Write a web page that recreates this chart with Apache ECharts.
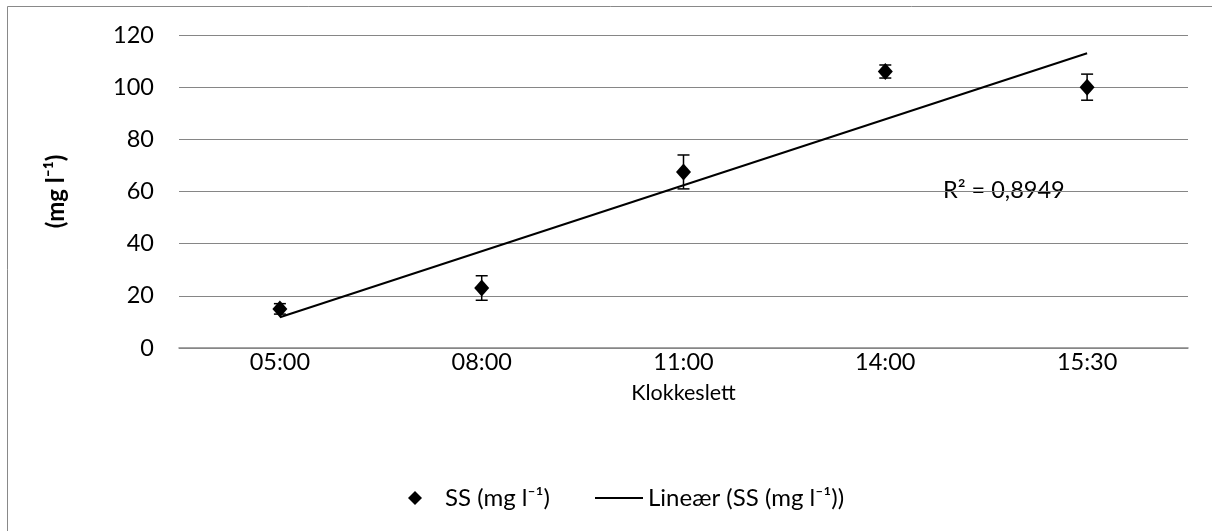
<!DOCTYPE html>
<html>
<head>
<meta charset="utf-8">
<script src="https://cdn.jsdelivr.net/npm/echarts@6/dist/echarts.min.js"></script>
<style>html,body{margin:0;padding:0;background:#fff}#c{width:1212px;height:531px}</style>
</head>
<body>
<div id="c"></div>
<script>
var categories = ['05:00', '08:00', '11:00', '14:00', '15:30'];
var ssValues = [15, 23, 67.5, 106, 100];
var ssErrors = [2, 4.7, 6.5, 2.5, 5];
var trendValues = [11.8, 113]; // at first and last category
var yTicks = { min: 0, max: 120, interval: 20 };
var r2Text = 'R² = 0,8949';

var FONT = 'Lato';
var chart = echarts.init(document.getElementById('c'));
var errData = categories.map(function (c, i) { return [i, ssValues[i] - ssErrors[i], ssValues[i] + ssErrors[i]]; });

chart.setOption({
  animation: false,
  backgroundColor: '#fff',
  textStyle: { fontFamily: FONT },
  graphic: [
    { type: 'rect', shape: { x: 7.5, y: 6.5, width: 1220, height: 540 }, style: { fill: 'none', stroke: '#898989', lineWidth: 1 }, silent: true },
    { type: 'text', left: 943, top: 178, style: { text: r2Text, font: '23.5px "' + FONT + '"', fill: '#000' } }
  ],
  grid: { left: 179, right: 24, top: 35, bottom: 183 },
  legend: [
    {
      left: 403,
      top: 481,
      itemWidth: 14,
      itemHeight: 14,
      itemGap: 0,
      textStyle: { fontSize: 24, color: '#000', fontFamily: FONT, padding: [0, 0, 0, 18] },
      data: [{ name: 'SS (mg l⁻¹)', icon: 'diamond' }]
    },
    {
      left: 590,
      top: 481,
      itemWidth: 48,
      itemHeight: 2,
      textStyle: { fontSize: 24, color: '#000', fontFamily: FONT, padding: [0, 0, 0, 0] },
      data: [{ name: 'Lineær (SS (mg l⁻¹))', icon: 'rect' }]
    }
  ],
  xAxis: {
    type: 'category',
    data: categories,
    name: 'Klokkeslett',
    nameLocation: 'middle',
    nameGap: 34,
    nameTextStyle: { fontSize: 21.5, color: '#000', fontFamily: FONT },
    axisLine: { lineStyle: { color: '#868686', width: 1.5 } },
    axisTick: { show: false },
    axisLabel: { fontSize: 23.5, color: '#000', margin: 2, fontFamily: FONT },
    splitLine: { show: false }
  },
  yAxis: {
    type: 'value',
    min: yTicks.min, max: yTicks.max, interval: yTicks.interval,
    name: '(mg l⁻¹)',
    nameLocation: 'middle',
    nameGap: 111,
    nameRotate: 90,
    nameTextStyle: { fontSize: 24, fontWeight: 'bold', color: '#000', fontFamily: FONT },
    axisLine: { show: false },
    axisTick: { show: false },
    axisLabel: { fontSize: 23.5, color: '#000', margin: 25, fontFamily: FONT },
    splitLine: { lineStyle: { color: '#868686', width: 1.2 } }
  },
  series: [
    {
      name: 'Lineær (SS (mg l⁻¹))',
      type: 'line',
      data: [[categories[0], trendValues[0]], [categories[categories.length - 1], trendValues[1]]],
      symbol: 'none',
      lineStyle: { color: '#000', width: 2 },
      itemStyle: { color: '#000' },
      z: 3
    },
    {
      name: 'errors',
      type: 'custom',
      data: errData,
      renderItem: function (params, api) {
        var x = api.value(0);
        var p1 = api.coord([x, api.value(1)]);
        var p2 = api.coord([x, api.value(2)]);
        var hw = 6;
        var st = { stroke: '#000', lineWidth: 1.5 };
        return {
          type: 'group',
          children: [
            { type: 'line', shape: { x1: p1[0], y1: p1[1], x2: p2[0], y2: p2[1] }, style: st },
            { type: 'line', shape: { x1: p1[0] - hw, y1: p1[1], x2: p1[0] + hw, y2: p1[1] }, style: st },
            { type: 'line', shape: { x1: p2[0] - hw, y1: p2[1], x2: p2[0] + hw, y2: p2[1] }, style: st }
          ]
        };
      },
      z: 4
    },
    {
      name: 'SS (mg l⁻¹)',
      type: 'scatter',
      data: ssValues,
      symbol: 'diamond',
      symbolSize: [15, 17],
      itemStyle: { color: '#000', opacity: 1 },
      z: 5
    }
  ]
});
</script>
</body>
</html>
